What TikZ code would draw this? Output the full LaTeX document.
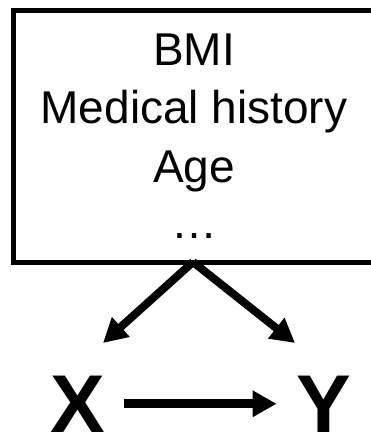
\documentclass[tikz,border=0pt]{standalone}
\usepackage{fontspec}
\newfontfamily\arialfont{Liberation Sans}
\usetikzlibrary{arrows.meta}
\begin{document}
\begin{tikzpicture}[x=1pt,y=-1pt,
  confbox/.style={draw,line width=5pt,minimum width=362.5pt,minimum height=251.5pt,inner sep=0pt,outer sep=0pt},
  conftext/.style={anchor=base,inner sep=0pt,font=\arialfont\fontsize{46}{58}\selectfont},
  varnode/.style={anchor=base,inner xsep=19.5pt,inner ysep=0pt,outer sep=0pt,font=\arialfont\bfseries\fontsize{82}{90}\selectfont},
  arr/.style={line width=#1,-{Triangle[length=24pt,width=25pt]}},
  arr/.default=8pt]
\useasboundingbox (0,0) rectangle (371,437);
\node[confbox] (conf) at (194.75,136.25) {};
\node[conftext] (bmi) at (194,65) {BMI};
\node[conftext] (med) at (194,123) {Medical history};
\node[conftext] (age) at (194,182) {Age};
\node[conftext] (dots) at (194,238) {…};
\node[varnode] (X) at (77.5,432) {X};
\node[varnode] (Y) at (323.5,432) {Y};
\coordinate (top) at (193,262);
\coordinate (tipL) at (103,343);
\coordinate (tipR) at (295,343);
\draw[arr] (top) -- (tipL);
\draw[arr] (top) -- (tipR);
\draw[arr=9pt] (X) -- (Y);
\end{tikzpicture}
\end{document}
